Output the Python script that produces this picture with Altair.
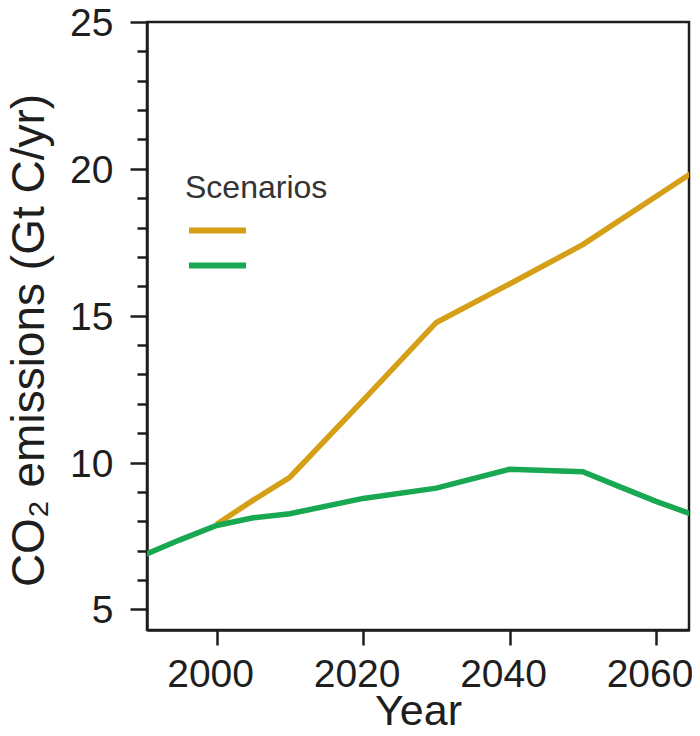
import altair as alt
import pandas as pd

# Data
green_years = [1990, 1995, 2000, 2005, 2010, 2020, 2030, 2040, 2050, 2055, 2060, 2065]
green_vals = [6.84, 7.37, 7.86, 8.12, 8.26, 8.78, 9.13, 9.77, 9.69, 9.18, 8.68, 8.23]
orange_years = [2000, 2005, 2010, 2020, 2030, 2040, 2050, 2065]
orange_vals = [7.9, 8.72, 9.5, 12.12, 14.77, 16.08, 17.42, 19.88]
series_names = ["High", "Low"]
series_colors = ["#D5A017", "#17A851"]

df = pd.concat([
    pd.DataFrame({"Year": orange_years, "Emissions": orange_vals, "Scenario": series_names[0]}),
    pd.DataFrame({"Year": green_years, "Emissions": green_vals, "Scenario": series_names[1]}),
])

FONT = "Liberation Sans"
TXT = "#1e1e1e"

chart = alt.Chart(df).mark_line(strokeWidth=5.5, clip=True).encode(
    x=alt.X("Year:Q",
            scale=alt.Scale(domain=[1990.5, 2064.5], nice=False, zero=False),
            axis=alt.Axis(values=[2000, 2020, 2040, 2060], format="d", title="Year",
                          tickSize=15, tickWidth=2.5, tickColor=TXT,
                          domainWidth=2.5, domainColor=TXT,
                          labelFontSize=39, labelFont=FONT, labelColor=TXT,
                          labelPadding=10, labelOffset=-6.5,
                          titleFontSize=43, titleFont=FONT, titleColor=TXT, titleFontWeight="normal",
                          titlePadding=-4, grid=False, labelFlush=False)),
    y=alt.Y("Emissions:Q",
            scale=alt.Scale(domain=[4.3, 25], nice=False, zero=False),
            axis=alt.Axis(values=list(range(5, 26)),
                          labelExpr="datum.value % 5 === 0 ? datum.label : ''",
                          tickSize={"condition": {"test": "datum.value % 5 === 0", "value": 17}, "value": 10},
                          tickWidth=2.5, tickColor=TXT,
                          domainWidth=2.5, domainColor=TXT,
                          labelFontSize=39, labelFont=FONT, labelColor=TXT, labelPadding=17,
                          labelOffset=1.5,
                          title="CO₂ emissions (Gt C/yr)",
                          titleFontSize=46, titleFont=FONT, titleColor=TXT, titleFontWeight="normal",
                          titlePadding=16, titleY=318, grid=False)),
    color=alt.Color("Scenario:N",
                    scale=alt.Scale(domain=series_names, range=series_colors),
                    legend=alt.Legend(title="Scenarios", orient="none", legendX=38, legendY=151,
                                      titleFontSize=32, titleFont=FONT, titleColor="#333333",
                                      titleFontWeight="normal", titlePadding=8,
                                      labelExpr="''", symbolType="stroke", symbolSize=3249,
                                      symbolStrokeWidth=6, symbolOffset=1, clipHeight=35,
                                      rowPadding=0, padding=0)),
).properties(
    width=542, height=608,
    padding={"left": 139, "top": 14, "right": 3, "bottom": 98},
    autosize=alt.AutoSizeParams(type="none"),
).configure_view(stroke=TXT, strokeWidth=2.5)

chart.save("out.html", embed_options={"renderer": "svg", "actions": False})
